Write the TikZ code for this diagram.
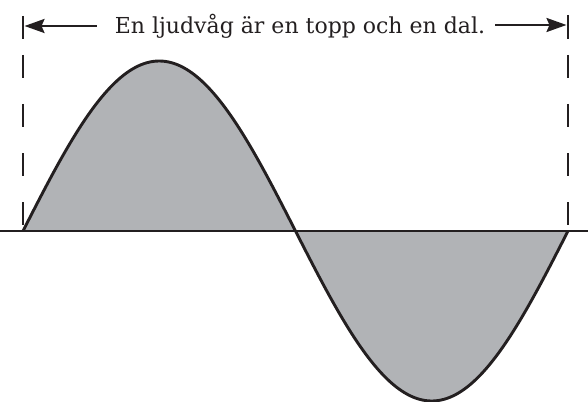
\documentclass[tikz,border=0pt]{standalone}
\usepackage{fontspec}
\setmainfont{DejaVu Serif}
\usetikzlibrary{arrows.meta}
\definecolor{ink}{HTML}{231F20}
\definecolor{wavefill}{HTML}{B1B3B6}
\begin{document}
\begin{tikzpicture}[x=1pt,y=-1pt,
  inkline/.style={draw=ink,line width=2.4pt},
  guide/.style={draw=ink,line width=2.8pt,dash pattern=on 23pt off 26pt},
  bar/.style={draw=ink,line width=2.8pt},
  span/.style={draw=ink,line width=2.4pt,-{Stealth[length=20pt,width=14pt,inset=3pt]}},
  lbl/.style={inner sep=0pt,font=\fontsize{22}{25}\selectfont,text=ink}]
\useasboundingbox (0,0) rectangle (588,401);
% wave
\fill[wavefill] plot[domain=0:360,samples=181] ({23+\x/360*545},{231-170*sin(\x)}) -- cycle;
\draw[ink,line width=2.9pt,line join=round] plot[domain=0:360,samples=181] ({23+\x/360*545},{231-170*sin(\x)});
% axis
\coordinate (axL) at (0,231);
\coordinate (axR) at (588,231);
\draw[inkline] (axL) -- (axR);
% guides
\coordinate (gLt) at (23,55);
\coordinate (gLb) at (23,231);
\coordinate (gRt) at (568,55);
\coordinate (gRb) at (568,231);
\draw[guide] (gLt) -- (gLb);
\draw[guide] (gRt) -- (gRb);
% bars
\coordinate (bLt) at (23,16);
\coordinate (bLb) at (23,39);
\coordinate (bRt) at (568,15);
\coordinate (bRb) at (568,39);
\draw[bar] (bLt) -- (bLb);
\draw[bar] (bRt) -- (bRb);
% label
\node[lbl,anchor=base] (label) at (300,34) {En ljudvåg är en topp och en dal.};
\coordinate (aL) at (24.5,26);
\coordinate (aR) at (566.5,25);
\draw[span] (label.west |- 0,26) ++(-18,0) -- (aL);
\draw[span] (label.east |- 0,25) ++(10,0) -- (aR);
\end{tikzpicture}
\end{document}
